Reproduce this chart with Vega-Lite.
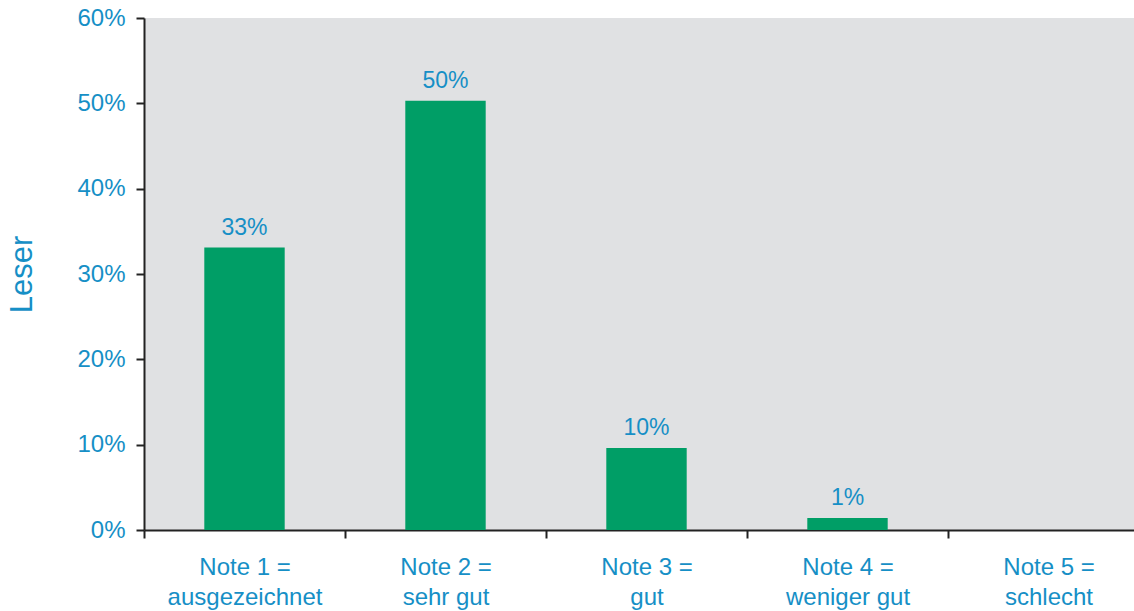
{
  "$schema": "https://vega.github.io/schema/vega-lite/v6.json",
  "autosize": "none",
  "width": 1005,
  "height": 512,
  "padding": {"left": 144, "top": 18, "right": 0, "bottom": 81},
  "background": "white",
  "config": {
    "font": "Liberation Sans",
    "view": {"fill": "#e0e1e3", "stroke": null}
  },
  "data": {
    "values": [
      {"note": "Note 1 =|ausgezeichnet", "value": 33.1, "label": "33%"},
      {"note": "Note 2 =|sehr gut", "value": 50.3, "label": "50%"},
      {"note": "Note 3 =|gut", "value": 9.6, "label": "10%"},
      {"note": "Note 4 =|weniger gut", "value": 1.4, "label": "1%"},
      {"note": "Note 5 =|schlecht", "value": 0, "label": ""}
    ]
  },
  "encoding": {
    "x": {
      "field": "note",
      "type": "nominal",
      "sort": null,
      "scale": {"paddingInner": 0, "paddingOuter": 0},
      "axis": {
        "title": null,
        "labelAngle": 0,
        "labelExpr": "split(datum.label, '|')",
        "labelFontSize": 24,
        "labelColor": "#168fc6",
        "labelLineHeight": 30,
        "labelPadding": 17,
        "labelBaseline": "top",
        "tickBand": "extent",
        "tickColor": "#222222",
        "tickSize": 8,
        "tickWidth": 2,
        "domainColor": "#222222",
        "domainWidth": 2
      }
    },
    "y": {
      "field": "value",
      "type": "quantitative",
      "scale": {"domain": [0, 60]},
      "axis": {
        "title": "Leser",
        "titleFontSize": 31,
        "titleFontWeight": "normal",
        "titleColor": "#168fc6",
        "titlePadding": 38,
        "values": [0, 10, 20, 30, 40, 50, 60],
        "labelExpr": "datum.value + '%'",
        "labelFontSize": 24,
        "labelColor": "#168fc6",
        "labelPadding": 11,
        "grid": false,
        "tickColor": "#222222",
        "tickSize": 8,
        "tickWidth": 2,
        "domainColor": "#222222",
        "domainWidth": 2
      }
    }
  },
  "layer": [
    {"mark": {"type": "bar", "color": "#009e66", "width": {"band": 0.4}}},
    {
      "mark": {"type": "text", "baseline": "bottom", "dy": -8, "fontSize": 23, "color": "#168fc6"},
      "encoding": {"text": {"field": "label"}}
    }
  ]
}
